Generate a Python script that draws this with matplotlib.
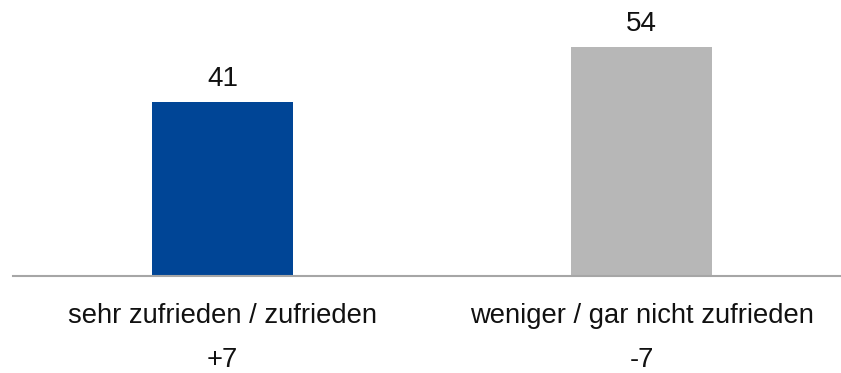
import matplotlib
matplotlib.use("Agg")
from matplotlib import pyplot as plt

categories = ["sehr zufrieden / zufrieden", "weniger / gar nicht zufrieden"]
values = [41, 54]
changes = ["+7", "-7"]
colors = ["#004596", "#B7B7B7"]

plt.rcParams['font.family'] = ['Liberation Sans', 'DejaVu Sans']

fig = plt.figure(figsize=(8.41, 3.73), dpi=100)
ax = fig.add_axes([13/841, 97/373, 828/841, 276/373])

xs = list(range(len(values)))
bars = ax.bar(xs, values, width=0.336, color=colors, zorder=2)

for x, v in zip(xs, values):
    ax.annotate(str(v), (x, v), xytext=(0, 16.5), textcoords='offset points',
                ha='center', va='center', fontsize=20, color='#111111')

# category names and change below the axis
for x, cat, ch in zip(xs, categories, changes):
    ax.text(x, -0.145, cat, transform=ax.get_xaxis_transform(),
            ha='center', va='center', fontsize=19.7, color='#111111')
    ax.text(x, -0.304, ch, transform=ax.get_xaxis_transform(),
            ha='center', va='center', fontsize=19.7, color='#111111')

ax.set_xlim(-0.5, 1.476)
ax.set_ylim(0, 65)
for s in ['top', 'right', 'left']:
    ax.spines[s].set_visible(False)
ax.spines['bottom'].set_color('#A6A6A6')
ax.spines['bottom'].set_linewidth(1.5)
ax.set_xticks([])
ax.set_yticks([])

fig.savefig("out.png", dpi=100)
